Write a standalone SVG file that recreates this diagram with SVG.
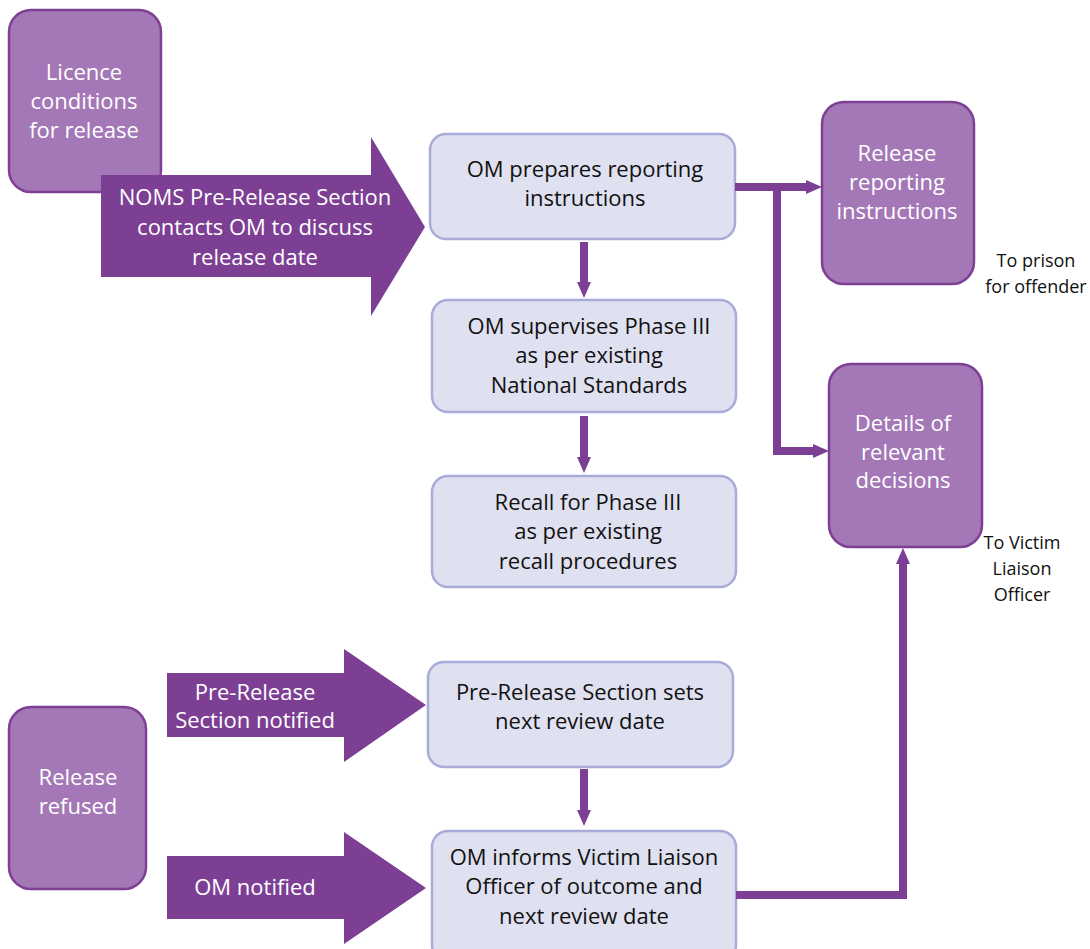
<svg xmlns="http://www.w3.org/2000/svg" width="1090" height="949" viewBox="0 0 1090 949">
<style>
text{font-family:"Open Sans","Noto Sans","Liberation Sans",sans-serif;text-anchor:middle}
.lb{fill:#dfe0f0;stroke:#a9acd8;stroke-width:2.5}
.pb{fill:#a478b6;stroke:#7e3f95;stroke-width:2.5}
.big{fill:#7d3f94}
.wt{fill:#ffffff;font-size:22px}
.bt{fill:#111111;font-size:22px}
.sm{fill:#111111;font-size:18px}
.ln{fill:none;stroke:#7d3f94;stroke-width:8}
.ah{fill:#7d3f94}
</style>
<rect width="1090" height="949" fill="#ffffff"/>
<g id="licence">
<rect class="pb" x="9" y="10" width="152" height="182" rx="22"/>
<text class="wt" x="84" y="80">Licence</text>
<text class="wt" x="84" y="109">conditions</text>
<text class="wt" x="84" y="138">for release</text>
</g>
<g id="noms-arrow">
<polygon class="big" points="101,175 371,175 371,137 425,227 371,316 371,277 101,277"/>
<text class="wt" x="255" y="205">NOMS Pre-Release Section</text>
<text class="wt" x="255" y="235">contacts OM to discuss</text>
<text class="wt" x="255" y="265">release date</text>
</g>
<g id="om-prepares">
<rect class="lb" x="430" y="134" width="305" height="105" rx="16"/>
<text class="bt" x="585" y="177">OM prepares reporting</text>
<text class="bt" x="585" y="206">instructions</text>
</g>
<g id="release-reporting">
<rect class="pb" x="822" y="102" width="152" height="182" rx="22"/>
<text class="wt" x="897" y="161">Release</text>
<text class="wt" x="897" y="190">reporting</text>
<text class="wt" x="897" y="219">instructions</text>
</g>
<g id="to-prison">
<text class="sm" x="1036" y="267">To prison</text>
<text class="sm" x="1036" y="293">for offender</text>
</g>
<g id="om-supervises">
<rect class="lb" x="432" y="300" width="304" height="112" rx="16"/>
<text class="bt" x="589" y="334">OM supervises Phase III</text>
<text class="bt" x="589" y="363">as per existing</text>
<text class="bt" x="589" y="393">National Standards</text>
</g>
<g id="recall">
<rect class="lb" x="432" y="476" width="304" height="111" rx="16"/>
<text class="bt" x="588" y="510">Recall for Phase III</text>
<text class="bt" x="588" y="539">as per existing</text>
<text class="bt" x="588" y="569">recall procedures</text>
</g>
<g id="details">
<rect class="pb" x="829" y="364" width="153" height="183" rx="22"/>
<text class="wt" x="903" y="431">Details of</text>
<text class="wt" x="903" y="460">relevant</text>
<text class="wt" x="903" y="488">decisions</text>
</g>
<g id="to-victim">
<text class="sm" x="1022" y="549">To Victim</text>
<text class="sm" x="1022" y="575">Liaison</text>
<text class="sm" x="1022" y="601">Officer</text>
</g>
<g id="release-refused">
<rect class="pb" x="9" y="707" width="137" height="182" rx="22"/>
<text class="wt" x="78" y="785">Release</text>
<text class="wt" x="78" y="814">refused</text>
</g>
<g id="prerelease-arrow">
<polygon class="big" points="167,673 344,673 344,649 426,705 344,762 344,737 167,737"/>
<text class="wt" x="255" y="700">Pre-Release</text>
<text class="wt" x="255" y="728">Section notified</text>
</g>
<g id="om-notified-arrow">
<polygon class="big" points="167,856 344,856 344,832 426,888 344,944 344,919 167,919"/>
<text class="wt" x="255" y="895">OM notified</text>
</g>
<g id="prerelease-sets">
<rect class="lb" x="428" y="662" width="305" height="105" rx="16"/>
<text class="bt" x="580" y="700">Pre-Release Section sets</text>
<text class="bt" x="580" y="729">next review date</text>
</g>
<g id="om-informs">
<rect class="lb" x="432" y="831" width="304" height="130" rx="16"/>
<text class="bt" x="584" y="865">OM informs Victim Liaison</text>
<text class="bt" x="584" y="894">Officer of outcome and</text>
<text class="bt" x="584" y="924">next review date</text>
</g>
<g id="connectors">
<path class="ln" d="M584,242 V283"/>
<polygon class="ah" points="577,282 591,282 584,298"/>
<path class="ln" d="M584,416 V458"/>
<polygon class="ah" points="577,457 591,457 584,473"/>
<path class="ln" d="M584,769 V811"/>
<polygon class="ah" points="577,810 591,810 584,826"/>
<path class="ln" d="M735,187 H808"/>
<polygon class="ah" points="806,180 806,194 822,187"/>
<path class="ln" d="M777,187 V451 H815"/>
<polygon class="ah" points="813,444 813,458 829,451"/>
<path class="ln" d="M736,895 H903 V562"/>
<polygon class="ah" points="896,564 910,564 903,548"/>
</g>
</svg>
